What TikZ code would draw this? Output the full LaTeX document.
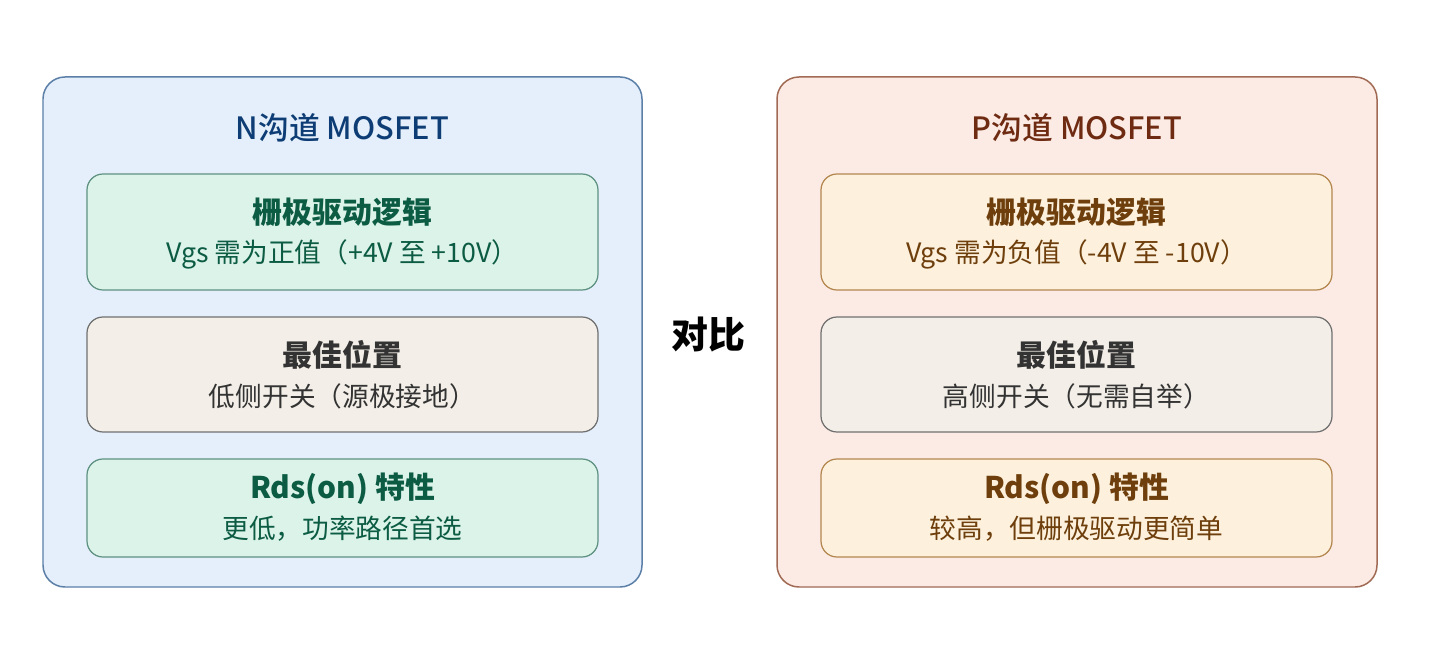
\documentclass[tikz,border=0pt]{standalone}
\usepackage{fontspec}
\setmainfont{Noto Sans CJK SC}
\newfontfamily\midweight{Noto Sans CJK SC}[UprightFont=* Medium]
\usetikzlibrary{positioning}

\definecolor{nEdge}{HTML}{5C7FA8}
\definecolor{nBack}{HTML}{E4EFFB}
\definecolor{nInk}{HTML}{0E3D75}
\definecolor{pEdge}{HTML}{A06A55}
\definecolor{pBack}{HTML}{FCEBE4}
\definecolor{pInk}{HTML}{6E2B12}
\definecolor{gEdge}{HTML}{5E9180}
\definecolor{gBack}{HTML}{DCF3EA}
\definecolor{gInk}{HTML}{0C5B43}
\definecolor{oEdge}{HTML}{B3874F}
\definecolor{oBack}{HTML}{FDF1DD}
\definecolor{oInk}{HTML}{6E3F0C}
\definecolor{mEdge}{HTML}{707070}
\definecolor{mBack}{HTML}{F3EFE8}
\definecolor{mInk}{HTML}{333333}

\begin{document}
\begin{tikzpicture}[x=0.02cm,y=-0.02cm]
\tikzstyle{every node}+=[inner sep=0pt]
\tikzstyle{frame}=[line width=0.85pt, rounded corners=0.44cm]
\tikzstyle{card}=[line width=0.7pt, rounded corners=0.32cm]
\tikzstyle{title}=[font=\fontsize{17.5}{21}\selectfont\midweight]
\tikzstyle{head}=[font=\fontsize{17}{20}\selectfont\bfseries]
\tikzstyle{sub}=[font=\fontsize{15.2}{18}\selectfont]
\fill [white] (0,0) rectangle (1430,668);
\useasboundingbox (0,0) rectangle (1430,668);
% N channel side
\draw [frame, draw=nEdge, fill=nBack] (43,77) rectangle (642,587);
\draw (342.5,128) node [title, text=nInk] (ntitle) {N沟道 MOSFET};
\draw [card, draw=gEdge, fill=gBack] (87,174) rectangle (598,290);
\draw (342.5,212) node [head, text=gInk] (ndrive) {栅极驱动逻辑};
\draw (342.5,254) node [sub, text=gInk] (ndrivetxt) {Vgs 需为正值（+4V 至 +10V）};
\draw [card, draw=mEdge, fill=mBack] (87,317) rectangle (598,432);
\draw (342.5,355) node [head, text=mInk] (nplace) {最佳位置};
\draw (342.5,396) node [sub, text=mInk] (nplacetxt) {低侧开关（源极接地）};
\draw [card, draw=gEdge, fill=gBack] (87,459) rectangle (598,557);
\draw (342.5,489) node [head, text=gInk] (nrds) {Rds(on) 特性};
\draw (342.5,529) node [sub, text=gInk] (nrdstxt) {更低，功率路径首选};
% middle
\draw (708,335) node [font=\fontsize{21}{25}\selectfont\bfseries] (versus) {对比};
% P channel side
\draw [frame, draw=pEdge, fill=pBack] (777,77) rectangle (1377,587);
\draw (1077,128) node [title, text=pInk] (ptitle) {P沟道 MOSFET};
\draw [card, draw=oEdge, fill=oBack] (821,174) rectangle (1332,290);
\draw (1076.5,212) node [head, text=oInk] (pdrive) {栅极驱动逻辑};
\draw (1076.5,254) node [sub, text=oInk] (pdrivetxt) {Vgs 需为负值（-4V 至 -10V）};
\draw [card, draw=mEdge, fill=mBack] (821,317) rectangle (1332,432);
\draw (1076.5,355) node [head, text=mInk] (pplace) {最佳位置};
\draw (1076.5,396) node [sub, text=mInk] (pplacetxt) {高侧开关（无需自举）};
\draw [card, draw=oEdge, fill=oBack] (821,459) rectangle (1332,557);
\draw (1076.5,489) node [head, text=oInk] (prds) {Rds(on) 特性};
\draw (1076.5,529) node [sub, text=oInk] (prdstxt) {较高，但栅极驱动更简单};
\end{tikzpicture}
\end{document}
